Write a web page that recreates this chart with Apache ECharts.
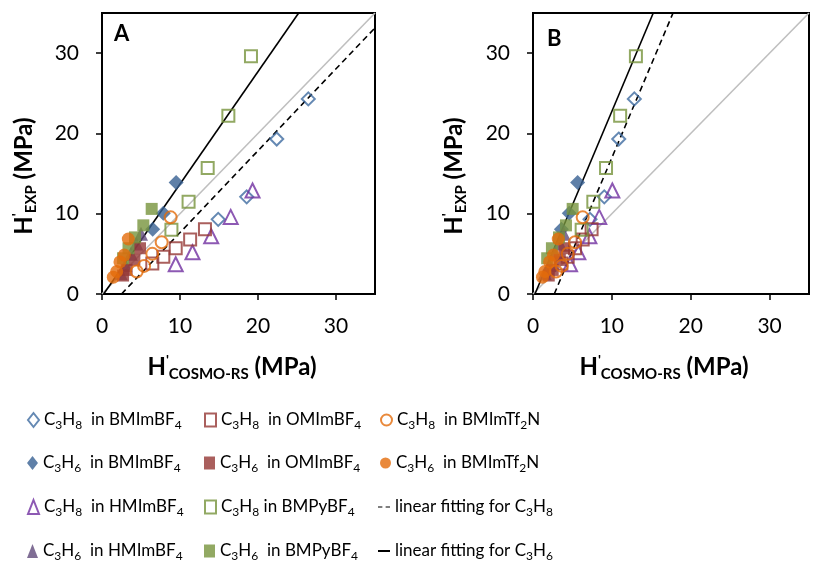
<!DOCTYPE html>
<html>
<head>
<meta charset="utf-8">
<title>Henry's law constants: experiment vs COSMO-RS</title>
<script src="https://cdn.jsdelivr.net/npm/echarts@6/dist/echarts.min.js"></script>
<style>
  html, body { margin: 0; padding: 0; background: #fff; }
  #chart { width: 838px; height: 568px; }
</style>
</head>
<body>
<div id="chart"></div>
<script>
// Experimental Henry's constants H'EXP (MPa) for each gas / ionic liquid pair,
// with the COSMO-RS predictions: panel A = original, panel B = corrected.
const expC3H8_BMIm = [24.3, 19.3, 12.1, 9.3];
const aC3H8_BMIm   = [26.45, 22.4, 18.55, 14.9];
const bC3H8_BMIm   = [12.85, 10.87, 9.04, 7.23];

const expC3H6_BMIm = [13.9, 10.05, 8.05];
const aC3H6_BMIm   = [9.5, 7.86, 6.5];
const bC3H6_BMIm   = [5.66, 4.6, 3.6];

const expC3H8_HMIm = [12.9, 9.6, 7.2, 5.2, 3.7];
const aC3H8_HMIm   = [19.3, 16.5, 14.0, 11.6, 9.45];
const bC3H8_HMIm   = [10.06, 8.4, 7.15, 5.75, 4.7];

const expC3H6_HMIm = [7.5, 6.3, 5.0, 3.6, 2.6];
const aC3H6_HMIm   = [5.0, 4.4, 3.7, 3.0, 2.4];
const bC3H6_HMIm   = [3.9, 3.4, 2.8, 2.1, 1.5];

const expC3H8_OMIm = [8.05, 6.8, 5.7, 4.65, 3.8];
const aC3H8_OMIm   = [13.2, 11.3, 9.45, 7.86, 6.45];
const bC3H8_OMIm   = [7.43, 6.3, 5.33, 4.4, 3.6];

const expC3H6_OMIm = [5.7, 4.25, 3.0, 2.3];
const aC3H6_OMIm   = [4.87, 4.15, 3.16, 2.7];
const bC3H6_OMIm   = [4.0, 3.4, 2.5, 2.0];

const expC3H8_BMPy = [29.6, 22.2, 15.7, 11.5, 8.0];
const aC3H8_BMPy   = [19.1, 16.2, 13.55, 11.1, 8.9];
const bC3H8_BMPy   = [13.05, 11.05, 9.26, 7.65, 6.17];

const expC3H6_BMPy = [10.6, 8.55, 7.05, 5.7, 4.45];
const aC3H6_BMPy   = [6.37, 5.3, 4.23, 3.4, 2.7];
const bC3H6_BMPy   = [5.03, 4.18, 3.3, 2.4, 1.8];

const expC3H8_Tf2N = [9.55, 6.45, 5.0, 3.5, 2.8];
const aC3H8_Tf2N   = [8.8, 7.65, 6.45, 5.4, 4.45];
const bC3H8_Tf2N   = [6.3, 5.33, 4.4, 3.64, 2.92];

const expC3H6_Tf2N = [6.85, 4.85, 4.0, 2.8, 2.1];
const aC3H6_Tf2N   = [3.37, 2.86, 2.3, 1.88, 1.45];
const bC3H6_Tf2N   = [3.2, 2.6, 2.1, 1.5, 1.2];

// Linear fits: [C3H8 (dashed), C3H6 (solid)]
const fitSlopeA = [1.02, 1.40];
const fitInterceptA = [-2.55, -0.3];
const fitSlopeB = [2.324, 2.333];
const fitInterceptB = [-6.27, -0.58];

const axisTicks = [0, 10, 20, 30];
const axisMin = 0, axisMax = 35;

const fitNames = ['linear fitting for C3H8', 'linear fitting for C3H6'];

const FONT = 'Lato';

const groups = [
  { name: 'C3H8  in BMImBF4', symbol: 'diamond', size: 13, color: '#3E6CA0', filled: false, y: expC3H8_BMIm, a: aC3H8_BMIm, b: bC3H8_BMIm },
  { name: 'C3H6  in BMImBF4', symbol: 'diamond', size: 15, color: '#376092', filled: true,  y: expC3H6_BMIm, a: aC3H6_BMIm, b: bC3H6_BMIm },
  { name: 'C3H8  in HMImBF4', symbol: 'triangle', size: 14, color: '#7030A0', filled: false, y: expC3H8_HMIm, a: aC3H8_HMIm, b: bC3H8_HMIm },
  { name: 'C3H6  in HMImBF4', symbol: 'triangle', size: 14, color: '#604A7B', filled: true,  y: expC3H6_HMIm, a: aC3H6_HMIm, b: bC3H6_HMIm },
  { name: 'C3H8  in OMImBF4', symbol: 'rect', size: 12, color: '#953735', filled: false, y: expC3H8_OMIm, a: aC3H8_OMIm, b: bC3H8_OMIm },
  { name: 'C3H6  in OMImBF4', symbol: 'rect', size: 12, color: '#953735', filled: true,  y: expC3H6_OMIm, a: aC3H6_OMIm, b: bC3H6_OMIm },
  { name: 'C3H8 in BMPyBF4',  symbol: 'rect', size: 12, color: '#77933C', filled: false, y: expC3H8_BMPy, a: aC3H8_BMPy, b: bC3H8_BMPy },
  { name: 'C3H6  in BMPyBF4', symbol: 'rect', size: 12, color: '#77933C', filled: true,  y: expC3H6_BMPy, a: aC3H6_BMPy, b: bC3H6_BMPy },
  { name: 'C3H8  in BMImTf2N', symbol: 'circle', size: 12, color: '#E46C0A', filled: false, y: expC3H8_Tf2N, a: aC3H8_Tf2N, b: bC3H8_Tf2N },
  { name: 'C3H6  in BMImTf2N', symbol: 'circle', size: 13, color: '#E46C0A', filled: true,  y: expC3H6_Tf2N, a: aC3H6_Tf2N, b: bC3H6_Tf2N }
];

// clip y = m x + c to the square [axisMin, axisMax]
function fitSegment(m, c) {
  let x0 = axisMin, y0 = m * x0 + c;
  if (y0 < axisMin) { x0 = (axisMin - c) / m; y0 = axisMin; }
  let x1 = axisMax, y1 = m * x1 + c;
  if (y1 > axisMax) { x1 = (axisMax - c) / m; y1 = axisMax; }
  return [[x0, y0], [x1, y1]];
}

// chemical formula -> rich text with subscripted digits
function formula(text, main, sub) {
  return text.split(/(\d)/).filter(p => p !== '')
    .map(p => /^\d$/.test(p) ? '{' + sub + '|' + p + '}' : '{' + main + '|' + p + '}').join('');
}

const series = [];
[0, 1].forEach(panel => {
  const slopes = panel === 0 ? fitSlopeA : fitSlopeB;
  const inters = panel === 0 ? fitInterceptA : fitInterceptB;
  // y = x reference line
  series.push({
    type: 'line', name: 'parity', xAxisIndex: panel, yAxisIndex: panel,
    data: [[axisMin, axisMin], [axisMax, axisMax]], symbol: 'none', silent: true, z: 1,
    lineStyle: { color: '#BFBFBF', width: 1.6 }
  });
  fitNames.forEach((fn, i) => {
    series.push({
      type: 'line', name: fn, xAxisIndex: panel, yAxisIndex: panel,
      data: fitSegment(slopes[i], inters[i]), symbol: 'none', z: 2,
      lineStyle: { color: '#000', width: 1.6, type: i === 0 ? [6, 4] : 'solid' },
      itemStyle: { color: '#000' }
    });
  });
  groups.forEach(g => {
    const xs = panel === 0 ? g.a : g.b;
    series.push({
      type: 'scatter', name: g.name, xAxisIndex: panel, yAxisIndex: panel, z: 3,
      symbol: g.symbol, symbolSize: g.size,
      data: xs.map((x, k) => [x, g.y[k]]),
      itemStyle: g.filled
        ? { color: g.color, borderColor: g.color, borderWidth: 0 }
        : { color: 'rgba(255,255,255,0)', borderColor: g.color, borderWidth: 2 }
    });
  });
});

function makeAxis(panel, isX) {
  return {
    type: 'value', gridIndex: panel, min: axisMin, max: axisMax, interval: 10,
    axisLine: { show: true, onZero: false, lineStyle: { color: '#000', width: 2 } },
    axisTick: { show: true, inside: false, length: 6, customValues: axisTicks, lineStyle: { color: '#000', width: 1.5 } },
    axisLabel: { customValues: axisTicks, fontFamily: FONT, fontSize: 21, color: '#000', margin: isX ? 22 : 23 },
    splitLine: { show: false }
  };
}

const legendRich = {
  m: { fontFamily: FONT, fontSize: 17, lineHeight: 22, color: '#000' },
  s: { fontFamily: FONT, fontSize: 12, lineHeight: 14, color: '#000', padding: [10, 0, 0, 0] }
};

// legend layout: three columns, four rows
const legendRows = [421, 464, 508, 552];
const legendCols = [27, 204, 380];

function legendItem(item, col, row, iw, ih) {
  return {
    orient: 'vertical', left: legendCols[col], top: legendRows[row] - 12, padding: 0,
    itemWidth: iw, itemHeight: ih, selectedMode: false,
    data: [item],
    formatter: name => formula(name, 'm', 's'),
    textStyle: { rich: legendRich, color: '#000' }
  };
}

const legends = [];
groups.forEach((g, i) => {
  const col = Math.floor(i / 4) > 1 ? 2 : Math.floor(i / 4);
  const row = i < 8 ? i % 4 : i - 8;
  const dims = g.symbol === 'rect' ? [11, 13] : (g.symbol === 'circle' ? [11, 12] : [11, 14]);
  legends.push(legendItem(g.name, col, row, dims[0], dims[1]));
});
legends.push(legendItem({ name: fitNames[0], icon: 'path://M0,0H4V1H0ZM7,0H11V1H7Z', itemStyle: { color: '#000' } }, 2, 2, 12, 2));
legends.push(legendItem({ name: fitNames[1], icon: 'rect', itemStyle: { color: '#000' } }, 2, 3, 12, 2));
legends[10].left = 378;
legends[11].left = 378;

const titleRich = {
  b: { fontFamily: FONT, fontSize: 24, fontWeight: 'bold', fill: '#000' },
  sup: { fontFamily: FONT, fontSize: 14, fontWeight: 'bold', fill: '#000', padding: [0, 0, 13, 0] },
  sub: { fontFamily: FONT, fontSize: 15, fontWeight: 'bold', fill: '#000', padding: [14, 0, 0, 0] }
};

function yTitle(x) {
  return {
    type: 'text', x: x, y: 176, rotation: Math.PI / 2,
    style: { text: "{b|H}{sup|'}{sub|EXP}{b| (MPa)}", rich: titleRich, align: 'center', verticalAlign: 'middle' }
  };
}
function xTitle(x) {
  return {
    type: 'text', x: x, y: 367,
    style: { text: "{b|H}{sup|'}{sub|COSMO-RS}{b| (MPa)}", rich: titleRich, align: 'center', verticalAlign: 'middle' }
  };
}
function panelLetter(text, x, y) {
  return { type: 'text', x: x, y: y, style: { text: text, font: 'bold 22px ' + FONT, fill: '#000', align: 'left', verticalAlign: 'middle' } };
}

const option = {
  backgroundColor: '#fff',
  animation: false,
  grid: [
    { left: 102, top: 13, width: 273, height: 281, show: true, borderColor: '#000', borderWidth: 2 },
    { left: 533, top: 13, width: 276, height: 281, show: true, borderColor: '#000', borderWidth: 2 }
  ],
  xAxis: [makeAxis(0, true), makeAxis(1, true)],
  yAxis: [makeAxis(0, false), makeAxis(1, false)],
  legend: legends,
  graphic: [
    yTitle(24), yTitle(454),
    xTitle(232), xTitle(664),
    panelLetter('A', 114, 34), panelLetter('B', 547, 39)
  ],
  series: series
};

const chart = echarts.init(document.getElementById('chart'), null, { renderer: 'canvas' });
chart.setOption(option);
</script>
</body>
</html>
